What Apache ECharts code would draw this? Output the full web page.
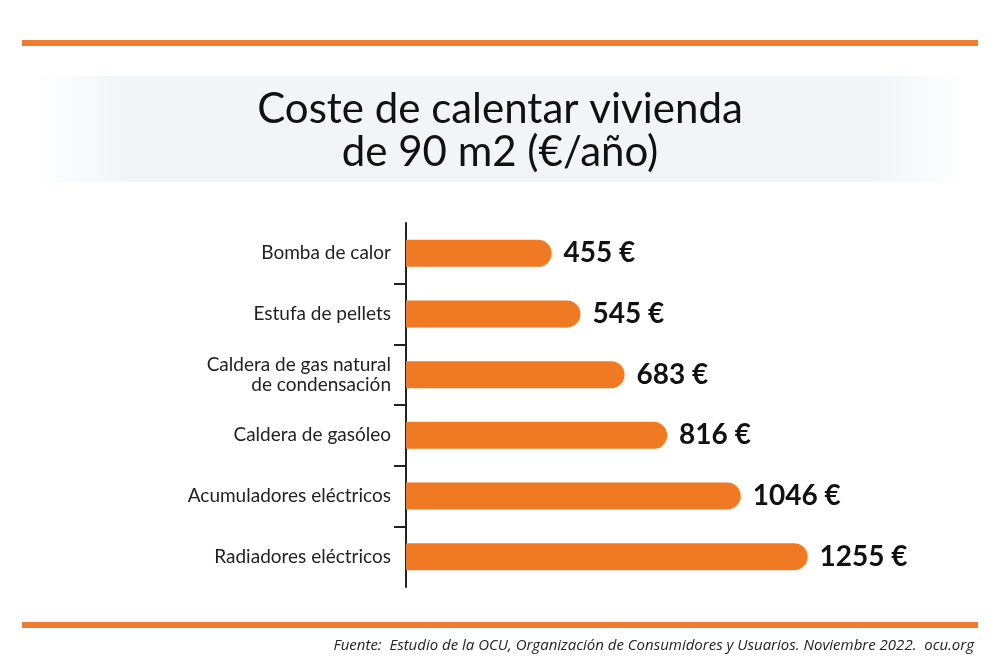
<!DOCTYPE html>
<html>
<head>
<meta charset="utf-8">
<script src="https://cdn.jsdelivr.net/npm/echarts@6/dist/echarts.min.js"></script>
<style>html,body{margin:0;padding:0;background:#fff}#c{width:1000px;height:669px}</style>
</head>
<body>
<div id="c"></div>
<script>
const titleText = 'Coste de calentar vivienda\nde 90 m2 (€/año)';
const sourceText = 'Fuente:  Estudio de la OCU, Organización de Consumidores y Usuarios. Noviembre 2022.  ocu.org';
const categories = ['Bomba de calor', 'Estufa de pellets', 'Caldera de gas natural\nde condensación', 'Caldera de gasóleo', 'Acumuladores eléctricos', 'Radiadores eléctricos'];
const costs = [455, 545, 683, 816, 1046, 1255];
const boundaryTicks = categories.map((_, i) => i).slice(1);

const ORANGE = '#F07A24';
const chart = echarts.init(document.getElementById('c'));
chart.setOption({
  backgroundColor: '#ffffff',
  animation: false,
  title: {
    text: titleText,
    left: 'center',
    top: 83,
    textStyle: { fontFamily: 'Lato', fontSize: 42, fontWeight: 'normal', color: '#111', lineHeight: 43 }
  },
  graphic: [
    { type: 'rect', left: 22, top: 40, shape: { width: 956, height: 6 }, style: { fill: '#EE7D30' }, z: 0 },
    { type: 'rect', left: 22, top: 622, shape: { width: 956, height: 6 }, style: { fill: '#EE7D30' }, z: 0 },
    { type: 'rect', left: 30, top: 76, shape: { width: 940, height: 106 }, z: -1,
      style: { fill: new echarts.graphic.LinearGradient(0, 0, 1, 0, [
        { offset: 0, color: 'rgba(242,245,247,0)' },
        { offset: 0.1, color: 'rgba(242,245,247,1)' },
        { offset: 0.9, color: 'rgba(242,245,247,1)' },
        { offset: 1, color: 'rgba(242,245,247,0)' }]) } },
    { type: 'text', right: 26, top: 638,
      style: { text: sourceText, font: 'italic 15px "Open Sans"', fill: '#222' } }
  ],
  grid: { left: 406, top: 223, width: 480, height: 364 },
  xAxis: { type: 'value', min: 0, max: 1500, show: false },
  yAxis: [
    {
      type: 'category', data: categories, inverse: true,
      axisLine: { show: true, lineStyle: { color: '#222', width: 2 } },
      axisTick: { show: false },
      axisLabel: { margin: 15, fontFamily: 'Lato', fontSize: 19, color: '#222', lineHeight: 20, align: 'right' }
    },
    {
      type: 'value', min: 0, max: categories.length, interval: 1, inverse: true, position: 'left',
      axisLine: { show: false }, axisLabel: { show: false }, splitLine: { show: false },
      axisTick: { show: true, customValues: boundaryTicks, length: 12, lineStyle: { color: '#222', width: 2 } }
    }
  ],
  series: [{
    type: 'bar', data: costs, yAxisIndex: 0, barWidth: 27,
    itemStyle: { color: ORANGE, borderRadius: [0, 14, 14, 0] },
    label: {
      show: true, position: 'right', distance: 12, formatter: '{c} €',
      fontFamily: 'Lato', fontWeight: 'bold', fontSize: 28, color: '#111'
    }
  }]
});
</script>
</body>
</html>
